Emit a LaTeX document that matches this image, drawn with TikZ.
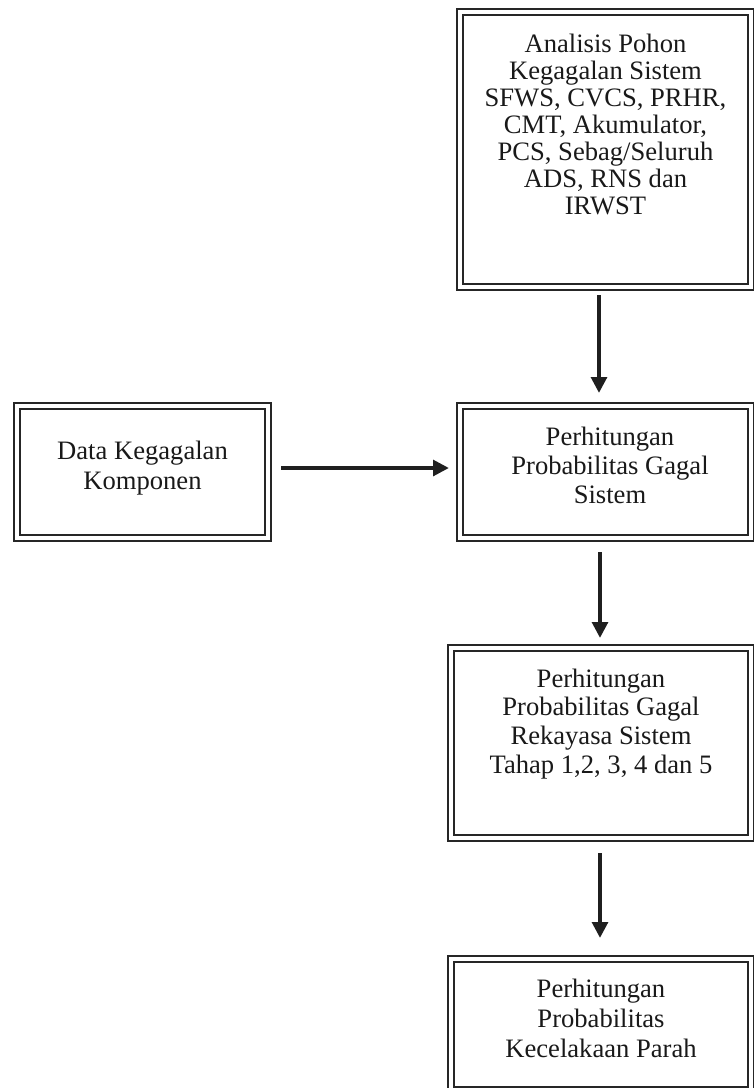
\documentclass[tikz,border=0pt]{standalone}
\usepackage{fontspec}
\setmainfont{Liberation Serif}
\usetikzlibrary{arrows.meta}
\newcommand{\boxtext}[2]{{\fontsize{13.3pt}{#1}\selectfont\begin{tabular}[t]{@{}c@{}}#2\end{tabular}}}
\begin{document}
\begin{tikzpicture}[x=0.5pt,y=-0.5pt,
  box/.style={draw=black!85, line width=1.15pt, double=white, double distance=1.9pt,
    inner sep=0pt, outer sep=0pt, rectangle},
  txt/.style={anchor=base, align=center, inner sep=0pt, text=black!90},
  arr/.style={draw=black!88, line width=2pt, -{Triangle[width=7.8pt,length=8pt]}}]
\useasboundingbox (0,0) rectangle (754,1088);
% boxes
\node[box, minimum width=145.5pt, minimum height=137.5pt] (b1) at (605.5,149.5) {};
\node[box, minimum width=125.5pt, minimum height=66pt] (bL) at (142.5,472) {};
\node[box, minimum width=145.5pt, minimum height=66pt] (b2) at (605.5,472) {};
\node[box, minimum width=150pt, minimum height=95pt] (b3) at (601,743) {};
\node[box, minimum width=150pt, minimum height=65.5pt] (b4) at (601,1024.5) {};
% texts
\node[txt] (t1) at (605.5,52)
  {\boxtext{13.5pt}{Analisis Pohon\\Kegagalan Sistem\\SFWS, CVCS, PRHR,\\CMT, Akumulator,\\PCS, Sebag/Seluruh\\ADS, RNS dan\\IRWST}};
\node[txt] (tL) at (142.5,459)
  {\boxtext{15pt}{Data Kegagalan\\Komponen}};
\node[txt] (t2) at (610,445)
  {\boxtext{14.5pt}{Perhitungan\\Probabilitas Gagal\\Sistem}};
\node[txt] (t3) at (601,687)
  {\boxtext{14.35pt}{Perhitungan\\Probabilitas Gagal\\Rekayasa Sistem\\Tahap 1,2, 3, 4 dan 5}};
\node[txt] (t4) at (601,997)
  {\boxtext{15pt}{Perhitungan\\Probabilitas\\Kecelakaan Parah}};
% arrows
\draw[arr] ([xshift=-3.25pt,yshift=-4pt]b1.south) -- ([xshift=-3.25pt,yshift=6.5pt]b2.north);
\draw[arr] ([xshift=6.5pt,yshift=2pt]bL.east) -- ([xshift=-5.5pt,yshift=2pt]b2.west);
\draw[arr] ([xshift=-2.75pt,yshift=-7pt]b2.south) -- ([xshift=-0.5pt,yshift=5pt]b3.north);
\draw[arr] ([xshift=-0.5pt,yshift=-7.5pt]b3.south) -- ([xshift=-0.5pt,yshift=10.5pt]b4.north);
\end{tikzpicture}
\end{document}
